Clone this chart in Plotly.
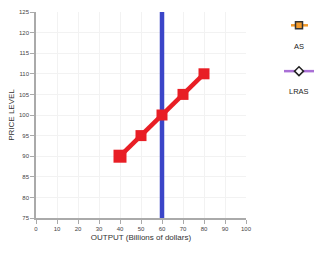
import plotly.graph_objects as go

# Data
as_output = [40, 50, 60, 70, 80]
as_price = [90, 95, 100, 105, 110]
lras_output = [60, 60]
lras_price = [75, 125]
x_ticks = [0, 10, 20, 30, 40, 50, 60, 70, 80, 90, 100]
y_ticks = [75, 80, 85, 90, 95, 100, 105, 110, 115, 120, 125]
legend_names = ["AS", "LRAS"]

RED = "#e81e25"
BLUE = "#3b45c8"
FONT = "Liberation Sans, Arial, sans-serif"

ML, MR, MT, MB = 36, 81, 9, 37
W, H = 327, 255

fig = go.Figure()
fig.add_trace(go.Scatter(x=lras_output, y=lras_price, mode="lines",
                         line=dict(color=BLUE, width=4.5), showlegend=False,
                         hoverinfo="skip"))
fig.add_trace(go.Scatter(x=as_output, y=as_price, mode="lines+markers",
                         line=dict(color=RED, width=4.5),
                         marker=dict(symbol="square", size=[13, 11, 11, 11, 11], color=RED,
                                     opacity=1, line=dict(width=0, color=RED)),
                         showlegend=False))

axis_common = dict(showline=True, linecolor="#aaaaaa", linewidth=1.5,
                   ticks="outside", tickcolor="#aaaaaa", ticklen=4,
                   showgrid=True, gridcolor="#f2f2f2", gridwidth=1,
                   zeroline=False, tickfont=dict(size=6, color="#444444", family=FONT),
                   mirror=False)

fig.update_layout(
    width=W, height=H,
    margin=dict(l=ML, r=MR, t=MT, b=MB),
    paper_bgcolor="white", plot_bgcolor="white",
    font=dict(family=FONT),
    xaxis=dict(range=[0, 100], tickvals=x_ticks, **axis_common,
               title=dict(text="OUTPUT (Billions of dollars)", font=dict(size=8, color="#333333"),
                          standoff=3)),
    yaxis=dict(range=[75, 125], tickvals=y_ticks, **axis_common,
               title=dict(text="PRICE LEVEL", font=dict(size=8, color="#333333"), standoff=3)),
)

# Custom legend (icons drawn in paper coordinates, converted from pixels)
PW = W - ML - MR
PH = H - MT - MB
def px(x):
    return (x - ML) / PW
def py(y):
    return 1 - (y - MT) / PH

shapes = []
annotations = []
# AS legend icon
shapes.append(dict(type="line", xref="paper", yref="paper", x0=px(291), x1=px(308),
                   y0=py(22.5), y1=py(22.5), line=dict(color="#f39a2b", width=2.5)))
shapes.append(dict(type="rect", xref="paper", yref="paper", x0=px(295.5), x1=px(302.5),
                   y0=py(26), y1=py(19), fillcolor="#f39a2b",
                   line=dict(color="#333333", width=1.5)))
# LRAS legend icon
shapes.append(dict(type="line", xref="paper", yref="paper", x0=px(284), x1=px(314),
                   y0=py(69), y1=py(69), line=dict(color="#a970d6", width=2.5)))
shapes.append(dict(type="path", xref="paper", yref="paper",
                   path=f"M {px(299)} {py(64.5)} L {px(303.5)} {py(69)} L {px(299)} {py(73.5)} L {px(294.5)} {py(69)} Z",
                   fillcolor="white", line=dict(color="#222222", width=1.5)))
fig.update_layout(shapes=shapes)

for name, yy in zip(legend_names, [44, 90]):
    annotations.append(dict(text=name, xref="paper", yref="paper", x=px(299), y=py(yy),
                            showarrow=False, xanchor="center", yanchor="middle",
                            font=dict(size=7.5, color="#222222", family=FONT)))
fig.update_layout(annotations=annotations)

fig.write_html("out.html")
